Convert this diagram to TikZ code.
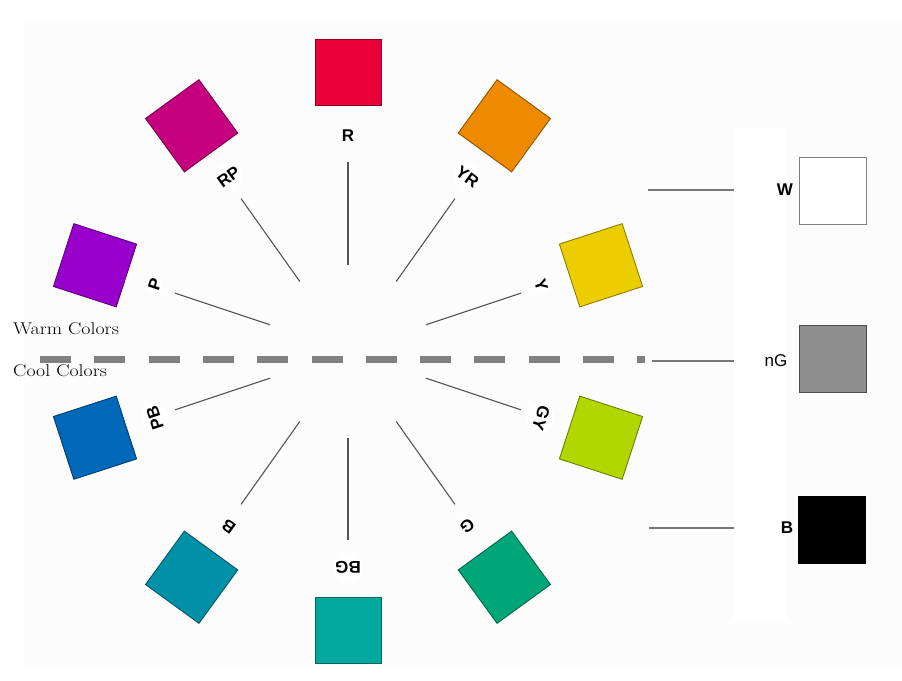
\documentclass[tikz,border=0pt]{standalone}
\usepackage{fontspec}
\newfontfamily\lblfont{Liberation Sans}
\definecolor{bgc}{RGB}{253,252,253}
\definecolor{cR}{RGB}{236,0,58}
\definecolor{cRP}{RGB}{198,0,126}
\definecolor{cYR}{RGB}{238,138,0}
\definecolor{cY}{RGB}{236,206,0}
\definecolor{cGY}{RGB}{178,214,0}
\definecolor{cG}{RGB}{0,166,120}
\definecolor{cBG}{RGB}{0,168,157}
\definecolor{cB}{RGB}{0,144,168}
\definecolor{cPB}{RGB}{0,104,184}
\definecolor{cP}{RGB}{153,0,204}
\definecolor{cnG}{RGB}{142,142,142}
\definecolor{dashc}{RGB}{128,128,128}
\definecolor{spokec}{RGB}{85,85,85}
\begin{document}
\begin{tikzpicture}[x=1pt,y=1pt,
  sq/.style={minimum size=66pt,inner sep=0pt,line width=0.9pt},
  lbl/.style={circle,fill=white,inner sep=0.5pt,font=\lblfont\bfseries\fontsize{17}{19}\selectfont},
  rlbl/.style={inner sep=1pt,font=\lblfont\bfseries\fontsize{17}{19}\selectfont},
  spoke/.style={draw=spokec,line width=1.1pt},
  rline/.style={draw=spokec!80,line width=1.1pt},
  side/.style={anchor=west,inner sep=0pt,xscale=1.17,font=\fontsize{17}{20}\selectfont}]
\useasboundingbox (0,0) rectangle (902,680);
\fill[white] (0,0) rectangle (902,680);
\fill[bgc] (24,12) rectangle (902,660);
\fill[white] (734,60) rectangle (786,552);
\def\cx{348}\def\cy{328.5}
% dashed divider
\coordinate (dl) at (40,320);
\coordinate (dr) at (645,320);
\draw[dashc,line width=7pt,dash pattern=on 31pt off 23.3pt] (dl) -- (dr);
% wheel
\foreach \ang/\col/\lab/\nm in {90/cR/R/r,54/cYR/YR/yr,18/cY/Y/y,-18/cGY/GY/gy,-54/cG/G/g,-90/cBG/BG/bg,-126/cB/B/b,-162/cPB/PB/pb,162/cP/P/p,126/cRP/RP/rp}{
  \pgfmathsetmacro\rot{\ang-90}
  \node[sq,fill=\col,draw=\col!60!black,rotate=\rot] (sq-\nm) at ({\cx+266*cos(\ang)},{\cy+279*sin(\ang)}) {};
  \node[lbl,rotate=\rot] (lb-\nm) at ({\cx+203*cos(\ang)},{\cy+216*sin(\ang)}) {\lab};
  \coordinate (in-\nm) at ({\cx+82*cos(\ang)},{\cy+86.5*sin(\ang)});
  \coordinate (out-\nm) at ({\cx+182*cos(\ang)},{\cy+189*sin(\ang)});
  \draw[spoke] (in-\nm) -- (out-\nm);
}
% neutral column
\node[sq,minimum size=67pt,fill=white,draw=gray] (sq-w) at (832.5,489.5) {};
\node[sq,minimum size=67pt,fill=cnG,draw=black!70] (sq-ng) at (832.5,321) {};
\node[sq,minimum size=67pt,fill=black,draw=black] (sq-bk) at (831.5,150) {};
\node[rlbl] (lb-w) at (785,490) {W};
\node[rlbl,font=\lblfont\fontsize{17}{19}\selectfont] (lb-ng) at (776,319) {nG};
\node[rlbl] (lb-bk) at (787,152) {B};
\coordinate (wl) at (648,490); \coordinate (wr) at (734,490);
\coordinate (gl) at (652,319); \coordinate (gr) at (734,319);
\coordinate (bl) at (649,152); \coordinate (br) at (734,152);
\draw[rline] (wl) -- (wr);
\draw[rline] (gl) -- (gr);
\draw[rline] (bl) -- (br);
% warm / cool
\node[side] (warm) at (13,351) {Warm Colors};
\node[side] (cool) at (13,309) {Cool Colors};
\end{tikzpicture}
\end{document}
